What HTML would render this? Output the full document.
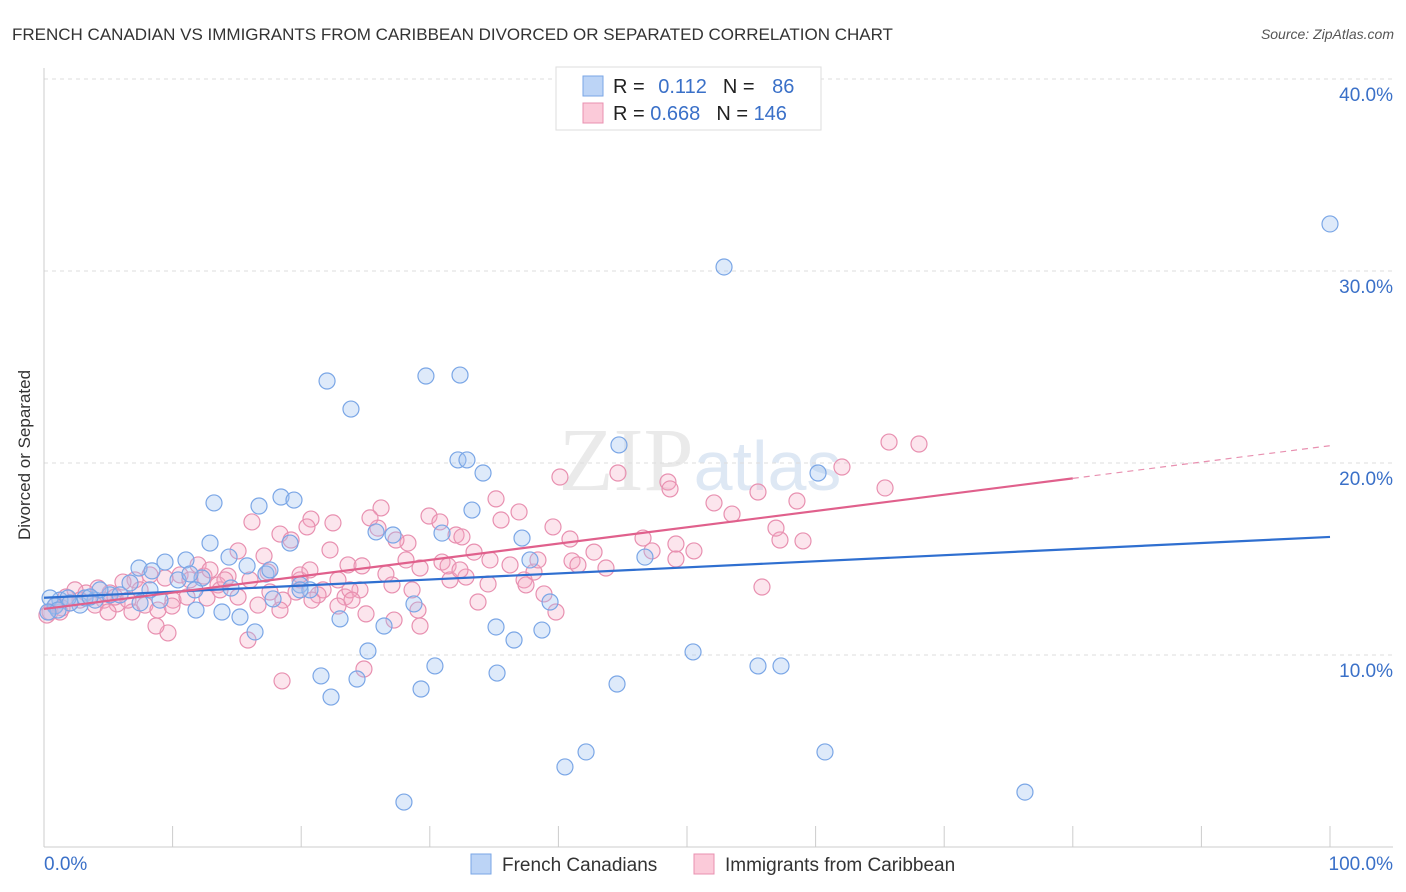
<!DOCTYPE html>
<html><head><meta charset="utf-8"><style>
body{margin:0;background:#fff;font-family:"Liberation Sans",sans-serif}
svg{display:block}
</style></head><body>
<svg id="c" width="1406" height="892" xmlns="http://www.w3.org/2000/svg">
<text x="12" y="40" font-size="17" fill="#333">FRENCH CANADIAN VS IMMIGRANTS FROM CARIBBEAN DIVORCED OR SEPARATED CORRELATION CHART</text>
<text x="1394" y="39" font-size="14" fill="#555" font-style="italic" text-anchor="end">Source: ZipAtlas.com</text>
<text x="30" y="455" font-size="17" fill="#333" text-anchor="middle" transform="rotate(-90 30 455)">Divorced or Separated</text>
<text x="700" y="490" font-size="90" fill="#ddd" text-anchor="middle" font-family="Liberation Serif" opacity="0.6">ZIP<tspan fill="#c9d9ee" font-family="Liberation Sans" font-size="70">atlas</tspan></text>
<g id="grid"></g><g id="pts"></g><g id="trend"></g>
<g>
<rect x="556" y="67" width="265" height="63" fill="#fff" stroke="#ddd"/>
<rect x="583" y="76" width="20" height="20" fill="#bcd4f6" stroke="#7aa6e6"/>
<rect x="583" y="103" width="20" height="20" fill="#fbcad9" stroke="#e890b0"/>
<text x="613" y="93" font-size="20" fill="#222">R = <tspan fill="#3a70c8" dx="8">0.112</tspan><tspan fill="#222" dx="16">N = </tspan><tspan fill="#3a70c8" dx="12">86</tspan></text>
<text x="613" y="120" font-size="20" fill="#222">R = <tspan fill="#3a70c8">0.668</tspan><tspan fill="#222" dx="16">N = </tspan><tspan fill="#3a70c8">146</tspan></text>
</g>
<g>
<rect x="471" y="854" width="20" height="20" fill="#bcd4f6" stroke="#7aa6e6"/>
<text x="502" y="871" font-size="19" fill="#333">French Canadians</text>
<rect x="694" y="854" width="20" height="20" fill="#fbcad9" stroke="#e890b0"/>
<text x="725" y="871" font-size="19" fill="#333">Immigrants from Caribbean</text>
</g>
</svg>
<script>
const yTicks=[10,20,30,40];
const yTickLabels=["10.0%","20.0%","30.0%","40.0%"];
const xTicks=[0,10,20,30,40,50,60,70,80,90,100];
const bluePx=[[327,381],[351,409],[426,376],[460,375],[724,267],[1330,224],[458,460],[467,460],[483,473],[619,445],[818,473],[472,510],[214,503],[259,506],[281,497],[294,500],[290,543],[376,532],[393,535],[442,533],[522,538],[530,560],[645,557],[210,543],[186,560],[165,562],[139,568],[152,571],[229,557],[247,566],[266,574],[300,585],[310,590],[202,578],[178,580],[190,574],[130,583],[110,595],[95,600],[80,605],[60,600],[50,598],[55,606],[68,598],[120,595],[160,600],[196,610],[222,612],[240,617],[255,632],[273,599],[340,619],[384,626],[414,604],[496,627],[514,640],[542,630],[550,602],[693,652],[758,666],[781,666],[368,651],[435,666],[497,673],[321,676],[357,679],[331,697],[421,689],[617,684],[586,752],[565,767],[825,752],[404,802],[1025,792],[270,570],[150,590],[100,590],[85,598],[70,603],[58,610],[48,612],[140,603],[231,588],[195,590],[90,597],[300,590]];
const pinkPx=[[889,442],[919,444],[842,467],[885,488],[560,477],[618,473],[668,482],[670,489],[496,499],[714,503],[732,514],[797,501],[758,492],[803,541],[780,540],[776,528],[643,538],[652,551],[676,559],[694,551],[676,544],[594,552],[572,561],[578,565],[606,568],[553,527],[570,539],[519,512],[501,520],[429,516],[440,522],[456,535],[462,537],[474,552],[408,543],[396,540],[381,508],[378,528],[370,518],[333,523],[311,519],[307,527],[280,534],[291,540],[252,522],[264,556],[238,551],[268,572],[300,580],[330,550],[348,565],[362,566],[386,574],[406,560],[420,568],[442,562],[448,566],[466,577],[488,584],[510,565],[524,580],[534,572],[538,560],[526,585],[490,560],[412,590],[392,585],[360,590],[345,597],[350,590],[323,590],[318,595],[296,592],[283,600],[270,592],[250,580],[228,576],[218,585],[204,576],[198,565],[180,575],[165,578],[150,575],[135,580],[123,582],[110,593],[98,588],[86,593],[75,590],[66,597],[56,605],[50,612],[47,615],[60,612],[80,600],[104,600],[117,604],[132,612],[145,605],[158,610],[173,600],[187,597],[207,598],[220,590],[238,597],[258,605],[280,610],[312,600],[338,606],[366,614],[394,620],[420,626],[478,602],[544,594],[556,612],[762,587],[248,640],[168,633],[172,606],[156,626],[282,681],[364,669],[352,600],[418,610],[300,575],[310,570],[338,580],[450,580],[460,570],[210,570],[225,580],[190,580],[140,590],[115,597],[95,605],[70,603],[62,608],[108,612],[128,600]];
// convert read pixel positions into data values (percent)
const blueX=bluePx.map(p=>+((p[0]-44)/12.86).toFixed(2)), blueY=bluePx.map(p=>+((847-p[1])/19.2).toFixed(2));
const pinkX=pinkPx.map(p=>+((p[0]-44)/12.86).toFixed(2)), pinkY=pinkPx.map(p=>+((847-p[1])/19.2).toFixed(2));
const blueTrend=[12.98,16.15];
const pinkTrend=[12.4,20.9];
const X=v=>44+v*12.86, Y=v=>847-v*19.2;
const NS="http://www.w3.org/2000/svg";
function mk(tag,attrs,parent){const e=document.createElementNS(NS,tag);for(const k in attrs)e.setAttribute(k,attrs[k]);parent.appendChild(e);return e;}
const grid=document.getElementById('grid');
yTicks.forEach((t,i)=>{
 const l=mk('line',{x1:44,x2:1393,y1:Y(t),y2:Y(t),stroke:'#ddd','stroke-dasharray':'4,4'},grid);
 
 
 const tx=mk('text',{x:1393,y:Y(t)+22,'font-size':19,fill:'#3a70c8','text-anchor':'end'},grid);
 tx.textContent=yTickLabels[i];
 
 
});
const ax=mk('line',{x1:44,x2:1393,y1:847,y2:847,stroke:'#ccc'},grid);


const ay=mk('line',{x1:44,x2:44,y1:68,y2:847,stroke:'#ccc'},grid);


xTicks.forEach(t=>{
 const l=mk('line',{x1:X(t),x2:X(t),y1:826,y2:847,stroke:'#ccc'},grid);
 
 
});
const x0=mk('text',{x:44,y:870,'font-size':19,fill:'#3a70c8'},grid);x0.textContent='0.0%';


const x1=mk('text',{x:1393,y:870,'font-size':19,fill:'#3a70c8','text-anchor':'end'},grid);x1.textContent='100.0%';


const pts=document.getElementById('pts');
pinkX.forEach((v,i)=>{
 const c=mk('circle',{cx:X(v),cy:Y(pinkY[i]),r:8,fill:'rgba(244,170,196,0.3)',stroke:'#e890b0','stroke-width':1.2},pts);
 
 
});
blueX.forEach((v,i)=>{
 const c=mk('circle',{cx:X(v),cy:Y(blueY[i]),r:8,fill:'rgba(160,196,240,0.35)',stroke:'#7aa6e6','stroke-width':1.2},pts);
 
 
});
const tr=document.getElementById('trend');
const bl=mk('line',{x1:X(0),y1:Y(blueTrend[0]),x2:X(100),y2:Y(blueTrend[1]),stroke:'#2f6fd0','stroke-width':2.2},tr);


const py80=pinkTrend[0]+(pinkTrend[1]-pinkTrend[0])*0.8;
const pl=mk('line',{x1:X(0),y1:Y(pinkTrend[0]),x2:X(80),y2:Y(py80),stroke:'#e0608c','stroke-width':2.2},tr);


const pd=mk('line',{x1:X(80),y1:Y(py80),x2:X(100),y2:Y(pinkTrend[1]),stroke:'#e890b0','stroke-width':1.2,'stroke-dasharray':'6,5'},tr);


</script>
</body></html>
